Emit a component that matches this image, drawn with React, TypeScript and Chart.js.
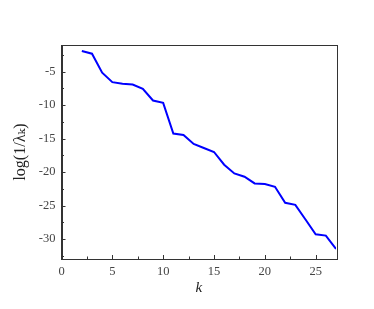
import React, { useEffect, useRef } from "react";
import { Chart, registerables } from "chart.js";

Chart.register(...registerables);

const kValues = [2, 3, 4, 5, 6, 7, 8, 9, 10, 11, 12, 13, 14, 15, 16, 17, 18, 19, 20, 21, 22, 23, 24, 25, 26, 27];
const logInvLambda = [-1.9, -2.3, -5.15, -6.55, -6.8, -6.9, -7.55, -9.3, -9.65, -14.25, -14.45, -15.8, -16.4, -17.0, -18.9, -20.2, -20.7, -21.7, -21.8, -22.2, -24.6, -24.9, -27.1, -29.3, -29.5, -31.5];
const xMin = 0, xMax = 27, xStep = 5;
const yMin = -33, yMax = -1, yStep = 5;
const minorStep = 2.5;
const xLabel = "k";
const yLabel = "log(1/λₖ)";

const FONT = "'Liberation Serif', 'DejaVu Serif', serif";

const framePlugin = {
  id: "frameTicks",
  afterDraw(chart: any) {
    const { ctx, chartArea: a, scales } = chart;
    const xs = scales.x, ys = scales.y;
    ctx.save();
    ctx.strokeStyle = "#333";
    ctx.lineWidth = 1;
    ctx.strokeRect(Math.round(a.left) + 0.5, Math.round(a.top) + 0.5, Math.round(a.right - a.left), Math.round(a.bottom - a.top));
    ctx.beginPath();
    for (let v = xMin; v <= xMax + 1e-9; v += minorStep) {
      const px = Math.round(xs.getPixelForValue(v)) + 0.5;
      const len = Math.abs(v % 5) < 1e-9 ? 4 : 2.5;
      ctx.moveTo(px, a.bottom);
      ctx.lineTo(px, a.bottom - len);
    }
    for (let v = Math.ceil(yMin / minorStep) * minorStep; v <= yMax + 1e-9; v += minorStep) {
      const py = Math.round(ys.getPixelForValue(v)) + 0.5;
      const len = Math.abs(v % 5) < 1e-9 ? 4 : 2.5;
      ctx.moveTo(a.left, py);
      ctx.lineTo(a.left + len, py);
    }
    ctx.stroke();
    ctx.restore();
  },
};

export default function App() {
  const ref = useRef<HTMLCanvasElement>(null);
  useEffect(() => {
    if (!ref.current) return;
    const chart = new Chart(ref.current, {
      type: "line",
      data: {
        datasets: [
          {
            data: kValues.map((k, i) => ({ x: k, y: logInvLambda[i] })),
            borderColor: "#0000ff",
            borderWidth: 2,
            pointRadius: 0,
            tension: 0,
            fill: false,
          },
        ],
      },
      options: {
        responsive: false,
        animation: false,
        events: [],
        layout: { padding: { left: 0, top: 45, right: 38, bottom: 0 } },
        plugins: { legend: { display: false }, tooltip: { enabled: false } },
        scales: {
          x: {
            type: "linear",
            min: xMin,
            max: xMax,
            grid: { display: false, drawTicks: false },
            border: { display: true, color: "#333" },
            ticks: { stepSize: xStep, includeBounds: false, color: "#444", font: { family: FONT, size: 12.5 }, padding: 5, maxRotation: 0 },
            title: { display: true, text: xLabel, color: "#222", font: { family: FONT, size: 15, style: "italic" }, padding: { top: 0, bottom: 12 } },
            afterFit(s: any) { s.height = 50; },
          },
          y: {
            type: "linear",
            min: yMin,
            max: yMax,
            grid: { display: false, drawTicks: false },
            border: { display: true, color: "#333" },
            ticks: { stepSize: yStep, includeBounds: false, color: "#444", font: { family: FONT, size: 12.5 }, padding: 6 },
            title: { display: true, text: yLabel, color: "#222", font: { family: FONT, size: 16 }, padding: { top: 11, bottom: 0 } },
            afterFit(s: any) { s.width = 61.5; },
          },
        },
      },
      plugins: [framePlugin],
    });
    return () => chart.destroy();
  }, []);
  return (
    <div style={{ position: "absolute", left: 0, top: 0, width: 374, height: 309, background: "#fff" }}>
      <canvas ref={ref} width={374} height={309} />
    </div>
  );
}
